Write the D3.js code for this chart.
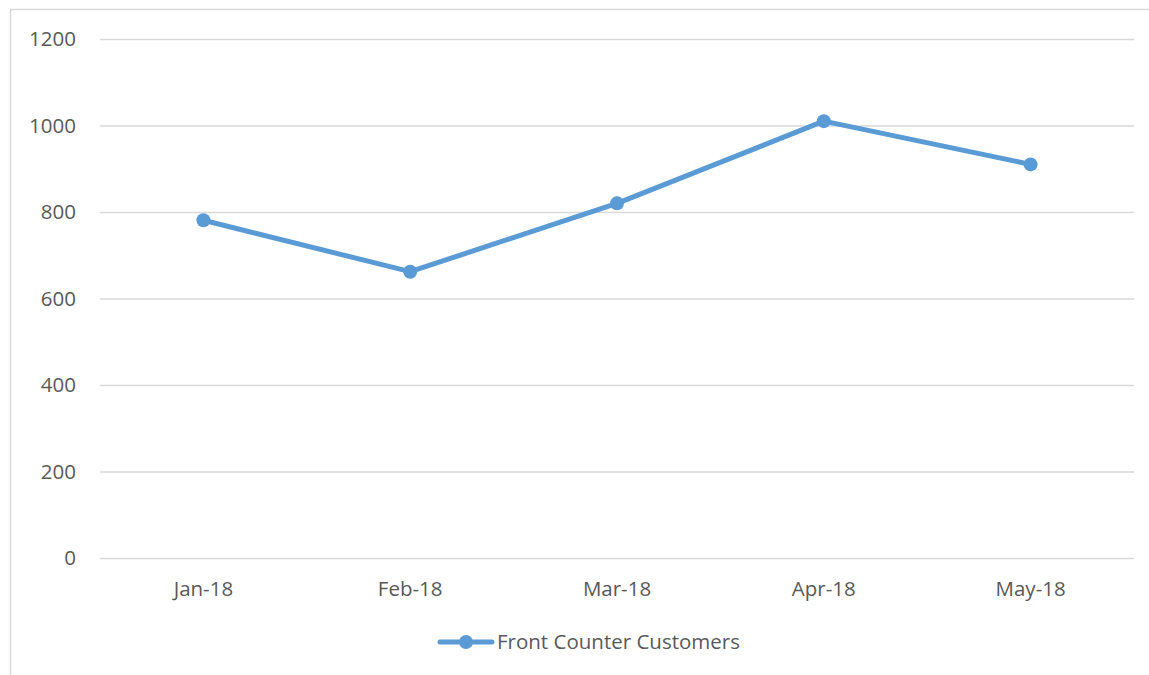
<!DOCTYPE html>
<html>
<head>
<meta charset="utf-8">
<script src="https://cdn.jsdelivr.net/npm/d3@7"></script>
<style>
  body { margin: 0; background: #fff; }
  text { font-family: "Open Sans", sans-serif; fill: #595959; }
</style>
</head>
<body>
<svg id="chart" width="1149" height="675"></svg>
<script>
(function () {

    // data
    var months = ["Jan-18", "Feb-18", "Mar-18", "Apr-18", "May-18"];
    var customers = [781, 662, 820, 1010, 910];
    var yTicks = [0, 200, 400, 600, 800, 1000, 1200];
    var seriesName = "Front Counter Customers";

    var lineColor = "#5B9BD5";
    var plot = { left: 100, right: 1134, top: 39, bottom: 558 };

    var svg = d3.select("#chart");

    // chart border
    svg.append("rect")
        .attr("x", 10.5)
        .attr("y", 9.5)
        .attr("width", 1160)
        .attr("height", 700)
        .attr("fill", "none")
        .attr("stroke", "#d9d9d9")
        .attr("stroke-width", 1.5);

    var x = d3.scaleBand()
        .domain(months)
        .range([plot.left, plot.right])
        .padding(0);

    var y = d3.scaleLinear()
        .domain([0, 1200])
        .range([plot.bottom, plot.top]);

    /* gridlines + y labels */
    var yAxis = d3.axisLeft(y)
        .tickValues(yTicks)
        .tickFormat(d3.format("d"))
        .tickSize(-(plot.right - plot.left))
        .tickPadding(24);

    var gy = svg.append("g")
        .attr("transform", "translate(" + plot.left + ",0)")
        .call(yAxis);
    gy.select(".domain").remove();
    gy.selectAll("line")
        .attr("stroke", "#d9d9d9")
        .attr("stroke-width", 1.3);
    gy.selectAll("text")
        .style("font-size", "20.5px")
        .attr("fill", "#595959");

    /* x labels */
    var xAxis = d3.axisBottom(x)
        .tickSize(0)
        .tickPadding(23);
    var gx = svg.append("g")
        .attr("transform", "translate(0," + plot.bottom + ")")
        .call(xAxis);
    gx.select(".domain").remove();
    gx.selectAll("text")
        .style("font-size", "20.5px")
        .attr("fill", "#595959");

    var cx = function (d, i) { return x(months[i]) + x.bandwidth() / 2; };

    var line = d3.line()
        .x(cx)
        .y(function (d) { return y(d); });

    svg.append("path")
        .datum(customers)
        .attr("d", line)
        .attr("fill", "none")
        .attr("stroke", lineColor)
        .attr("stroke-width", 5)
        .attr("stroke-linejoin", "round")
        .attr("stroke-linecap", "round");

    svg.selectAll(".dot")
        .data(customers)
        .enter().append("circle")
        .attr("class", "dot")
        .attr("cx", cx)
        .attr("cy", function (d) { return y(d); })
        .attr("r", 7)
        .attr("fill", lineColor);

    /* legend */
    var legend = svg.append("g").attr("transform", "translate(438,642)");
    legend.append("line")
        .attr("x1", 2).attr("x2", 54)
        .attr("stroke", lineColor)
        .attr("stroke-width", 5)
        .attr("stroke-linecap", "round");
    legend.append("circle")
        .attr("cx", 28)
        .attr("r", 7)
        .attr("fill", lineColor);
    legend.append("text")
        .attr("x", 59)
        .attr("dy", "0.35em")
        .style("font-size", "20.5px")
        .text(seriesName);
})();
</script>
</body>
</html>
